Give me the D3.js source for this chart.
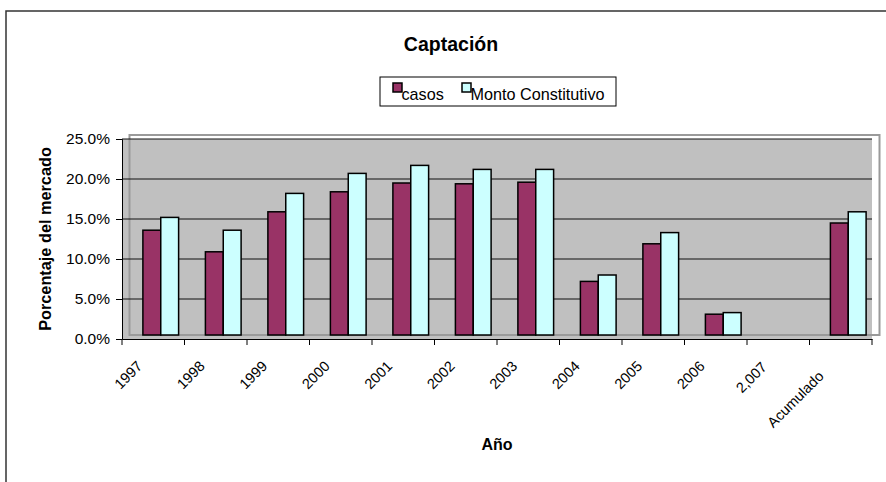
<!DOCTYPE html>
<html>
<head>
<meta charset="utf-8">
<script src="https://cdn.jsdelivr.net/npm/d3@7"></script>
<style>
  body { margin: 0; background: #fff; }
  svg { font-family: Arial, "Liberation Sans", sans-serif; }
</style>
</head>
<body>
<script>
// data (percent of market)
const categories = ["1997", "1998", "1999", "2000", "2001", "2002", "2003", "2004", "2005", "2006", "2,007", "Acumulado"];
const casos = [13.6, 10.9, 15.9, 18.4, 19.5, 19.4, 19.6, 7.2, 11.9, 3.1, null, 14.5];
const montoConstitutivo = [15.2, 13.6, 18.2, 20.7, 21.7, 21.2, 21.2, 8.0, 13.3, 3.3, null, 15.9];
const seriesNames = ["casos", "Monto Constitutivo"];
const seriesColors = ["#993366", "#CCFFFF"];
const yTicks = [0, 5, 10, 15, 20, 25];

const w = 886;
const h = 482;
const plotL = 122, plotR = 872, plotT = 139, plotB = 339;
const depthX = 7.5, depthY = -4;   // the little 3d shift of the walls

const svg = d3.select("body")
              .append("svg")
              .attr("width", w)
              .attr("height", h);

// chart area border (runs off the right and bottom edge)
svg.append("rect")
   .attr("x", 6).attr("y", 11)
   .attr("width", w + 10).attr("height", h + 10)
   .attr("fill", "none")
   .attr("stroke", "#333")
   .attr("stroke-width", 1.5);

const xScale = d3.scaleBand()
                 .domain(categories)
                 .range([plotL, plotR])
                 .paddingInner(0)
                 .paddingOuter(0);

const yScale = d3.scaleLinear()
                 .domain([0, 25])
                 .range([plotB, plotT]);

const barW = xScale.bandwidth() / 3.5;
const xSeries = d3.scaleBand()
                  .domain(seriesNames)
                  .range([0, barW * 2]);

// plot area
svg.append("rect")
   .attr("x", plotL).attr("y", plotT)
   .attr("width", plotR - plotL).attr("height", plotB - plotT)
   .attr("fill", "#C0C0C0");

svg.append("rect")
   .attr("x", plotL + depthX).attr("y", plotT + depthY)
   .attr("width", plotR - plotL).attr("height", plotB - plotT)
   .attr("fill", "none")
   .attr("stroke", "#9a9a9a")
   .attr("stroke-width", 2);

// gridlines
svg.append("g")
   .selectAll("line")
   .data(yTicks.slice(1))
   .enter()
   .append("line")
   .attr("x1", plotL).attr("x2", plotR)
   .attr("y1", (d) => yScale(d)).attr("y2", (d) => yScale(d))
   .attr("stroke", "#111")
   .attr("stroke-width", 1);

// bars
const seriesData = [casos, montoConstitutivo];
seriesData.forEach((vals, s) => {
  svg.append("g")
     .selectAll("rect")
     .data(vals.map((v, i) => ({cat: categories[i], v: v})).filter((d) => d.v != null))
     .enter()
     .append("rect")
     .attr("x", (d) => xScale(d.cat) + barW * 0.75 + depthX + xSeries(seriesNames[s]))
     .attr("y", (d) => yScale(d.v))
     .attr("width", xSeries.bandwidth())
     .attr("height", (d) => yScale(0) + depthY - yScale(d.v))
     .attr("fill", seriesColors[s])
     .attr("stroke", "#000")
     .attr("stroke-width", 1.5);
});

// axes
const yAxis = d3.axisLeft(yScale)
                .tickValues(yTicks)
                .tickSize(6)
                .tickPadding(6)
                .tickFormat((d) => d.toFixed(1) + "%");
const gy = svg.append("g")
              .attr("transform", "translate(" + plotL + ",0)")
              .call(yAxis);
gy.select(".domain").attr("stroke", "#000");
gy.selectAll("text").style("font-size", "15.5px").attr("fill", "#000");

const xAxis = d3.axisBottom(xScale)
                .tickSize(0)
                .tickFormat("");
const gx = svg.append("g")
              .attr("transform", "translate(0," + plotB + ")")
              .call(xAxis);
gx.select(".domain").attr("stroke", "#000");

// category boundary ticks
svg.append("g")
   .selectAll("line")
   .data(categories.concat([null]))
   .enter()
   .append("line")
   .attr("x1", (d, i) => plotL + i * xScale.step())
   .attr("x2", (d, i) => plotL + i * xScale.step())
   .attr("y1", plotB).attr("y2", plotB + 6)
   .attr("stroke", "#000");

// rotated category labels, longer ones sit a bit lower and further left
svg.append("g")
   .selectAll("text")
   .data(categories)
   .enter()
   .append("text")
   .attr("text-anchor", "end")
   .style("font-size", "14.5px")
   .text((d) => d)
   .each(function(d) {
     const extra = Math.max(0, this.getComputedTextLength() - 32);
     const px = xScale(d) + xScale.bandwidth() / 2 - 10 - extra * 0.15;
     const py = plotB + 28 + extra * 0.25;
     d3.select(this).attr("transform", "translate(" + px + "," + py + ") rotate(-45)");
   });

// titles
svg.append("text")
   .attr("x", 451).attr("y", 51)
   .attr("text-anchor", "middle")
   .style("font-size", "19.5px")
   .style("font-weight", "bold")
   .text("Captación");

svg.append("text")
   .attr("x", 497).attr("y", 450)
   .attr("text-anchor", "middle")
   .style("font-size", "16px")
   .style("font-weight", "bold")
   .text("Año");

svg.append("text")
   .attr("transform", "translate(51," + ((plotT + plotB) / 2) + ") rotate(-90)")
   .attr("text-anchor", "middle")
   .style("font-size", "16.3px")
   .style("font-weight", "bold")
   .text("Porcentaje del mercado");

// legend
const legend = svg.append("g");
legend.append("rect")
      .attr("x", 380).attr("y", 77)
      .attr("width", 236).attr("height", 29)
      .attr("fill", "#fff")
      .attr("stroke", "#000");

const legendX = [393, 462];
seriesNames.forEach((name, i) => {
  legend.append("rect")
        .attr("x", legendX[i]).attr("y", 83)
        .attr("width", 9).attr("height", 9)
        .attr("fill", seriesColors[i])
        .attr("stroke", "#000")
        .attr("stroke-width", 1.5);
  legend.append("text")
        .attr("x", legendX[i] + 8.5).attr("y", 99.5)
        .style("font-size", "16.2px")
        .text(name);
});
</script>
</body>
</html>
